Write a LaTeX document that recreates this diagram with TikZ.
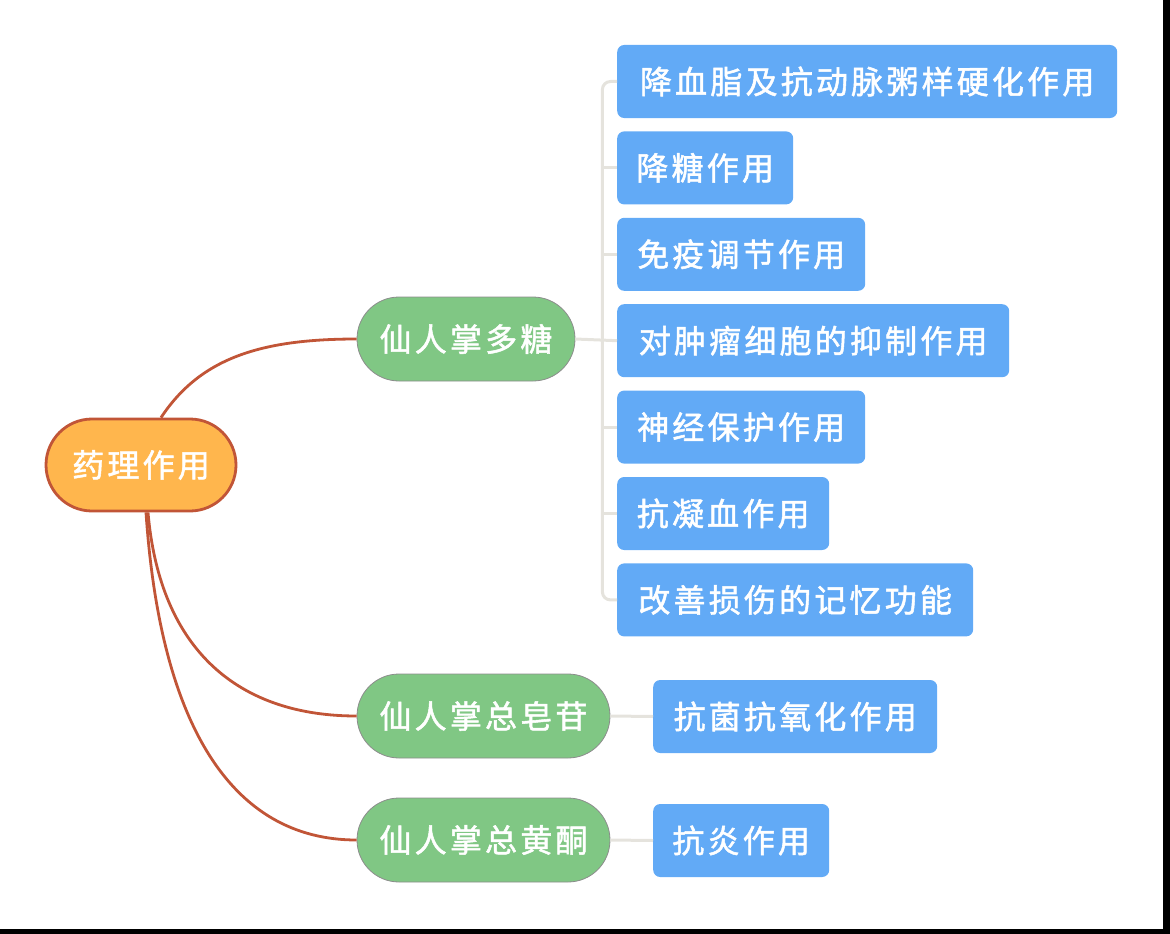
\documentclass[tikz,border=0pt]{standalone}
\usepackage{fontspec}
\newfontfamily\cjk{Noto Sans CJK SC}[LetterSpace=10, FakeBold=1.6]
\usetikzlibrary{positioning}
\definecolor{rootfill}{HTML}{FFB64D}
\definecolor{rootline}{HTML}{C15537}
\definecolor{midfill}{HTML}{80C784}
\definecolor{midline}{HTML}{8C8C8C}
\definecolor{leaffill}{HTML}{62AAF6}
\definecolor{braceline}{HTML}{E5E3DD}

\begin{document}
\begin{tikzpicture}[x=1pt, y=-1pt]
        % 1 unit = 1 px of the reference
        \tikzstyle{every node}=[font=\cjk\fontsize{32}{32}\selectfont, text=white, inner sep=0pt]
        \tikzstyle{root}=[rectangle, rounded corners=46pt, fill=rootfill, draw=rootline, line width=2.8pt, minimum width=190pt, minimum height=92pt]
        \tikzstyle{mid}=[rectangle, rounded corners=42pt, fill=midfill, draw=midline, line width=0.8pt, minimum height=84pt]
        \tikzstyle{leaf}=[rectangle, rounded corners=7pt, fill=leaffill, minimum height=73pt]
        \tikzstyle{link}=[rootline, line width=2.8pt]
        \tikzstyle{brace}=[braceline, line width=3pt]

        \useasboundingbox (0,0) rectangle (1170,934);
        \fill[black] (1163,0) rectangle (1170,934);
        \fill[black] (0,929) rectangle (1170,934);

        \node[root] (root) at (141,465) {药理作用};

        \node[mid, minimum width=218pt] (dt) at (466,339) {仙人掌多糖};
        \node[mid, minimum width=253pt] (zg) at (483.5,716) {仙人掌总皂苷};
        \node[mid, minimum width=253pt] (hz) at (483.5,840) {仙人掌总黄酮};

        \node[leaf, minimum width=500pt, anchor=west] (b1) at (617,81.5) {降血脂及抗动脉粥样硬化作用};
        \node[leaf, minimum width=176pt, below=13pt of b1.south west, anchor=north west] (b2) {降糖作用};
        \node[leaf, minimum width=248pt, below=13pt of b2.south west, anchor=north west] (b3) {免疫调节作用};
        \node[leaf, minimum width=392pt, below=13pt of b3.south west, anchor=north west] (b4) {对肿瘤细胞的抑制作用};
        \node[leaf, minimum width=248pt, below=13pt of b4.south west, anchor=north west] (b5) {神经保护作用};
        \node[leaf, minimum width=212pt, below=13pt of b5.south west, anchor=north west] (b6) {抗凝血作用};
        \node[leaf, minimum width=356pt, below=13pt of b6.south west, anchor=north west] (b7) {改善损伤的记忆功能};

        \node[leaf, minimum width=284pt, anchor=west] (b8) at (653,716.5) {抗菌抗氧化作用};
        \node[leaf, minimum width=176pt, anchor=west] (b9) at (653,840.5) {抗炎作用};

        % root to the three groups
        \draw[link] ([xshift=20pt]root.north) .. controls +(39,-59) and +(-97,0) .. (dt.west);
        \draw[link] ([xshift=7pt]root.south) .. controls +(12,139) and +(-117,0) .. (zg.west);
        \draw[link] ([xshift=5pt]root.south) .. controls +(14,209) and +(-127,0) .. (hz.west);

        % brackets to the leaves
        \coordinate (jt) at ([xshift=27pt]dt.east);
        \draw[brace, rounded corners=8pt] (b1.west) -| (jt) |- (b7.west);
        \foreach \b in {b2,b3,b5,b6}
                \draw[brace] (jt |- \b.west) -- (\b.west);
        \draw[brace] (dt.east) -- (b4.west);
        \draw[brace] (zg.east) -- (b8.west);
        \draw[brace] (hz.east) -- (b9.west);
\end{tikzpicture}
\end{document}
